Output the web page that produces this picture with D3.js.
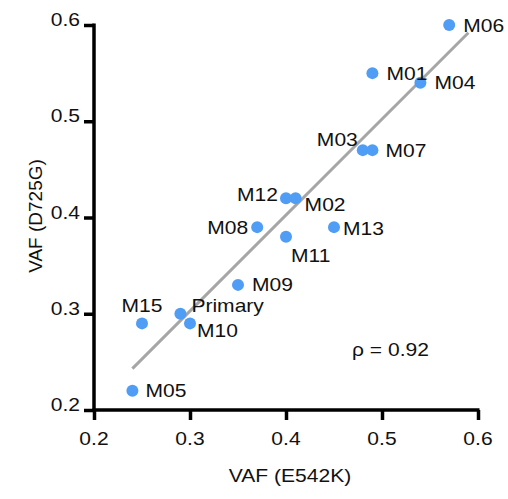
<!DOCTYPE html>
<html>
<head>
<meta charset="utf-8">
<script src="https://cdn.jsdelivr.net/npm/d3@7"></script>
<style>
  html, body { margin: 0; padding: 0; background: #fff; }
  svg { display: block; }
  text { font-family: "Liberation Sans", Arial, sans-serif; fill: #111; }
</style>
</head>
<body>
<svg id="chart" width="508" height="499"></svg>
<script>
// ---- data ----
const samples = ["M06","M01","M04","M03","M07","M12","M02","M08","M13","M11","M09","Primary","M10","M15","M05"];
const vafE542K = [0.57,0.49,0.54,0.48,0.49,0.40,0.41,0.37,0.45,0.40,0.35,0.29,0.30,0.25,0.24];
const vafD725G = [0.60,0.55,0.54,0.47,0.47,0.42,0.42,0.39,0.39,0.38,0.33,0.30,0.29,0.29,0.22];
const fitX = [0.24, 0.59];
const fitY = [0.243, 0.592];
const xTicks = [0.2, 0.3, 0.4, 0.5, 0.6];
const yTicks = [0.2, 0.3, 0.4, 0.5, 0.6];
const rhoText = "\u03C1 = 0.92";

// ---- label placement (layout only) ----
const labelPlace = {
  M06: ["start", 14, 0], M01: ["start", 14, 0], M04: ["start", 14, 0],
  M03: ["end", -5, -11], M07: ["start", 13, 0], M12: ["end", -8, -4],
  M02: ["start", 9, 6], M08: ["end", -9, 0], M13: ["start", 9, 1],
  M11: ["start", 5, 19], M09: ["start", 14, 0], Primary: ["start", 11, -8],
  M10: ["start", 7, 7], M15: ["middle", 0, -18], M05: ["start", 13, 0]
};

const SX = 1.17, FS = 18;
const svg = d3.select("#chart");
const x = d3.scaleLinear().domain([0.2, 0.6]).range([94, 478]);
const y = d3.scaleLinear().domain([0.2, 0.6]).range([410, 25]);

function stretchedText(g, tx, ty, str, anchor) {
  return g.append("text")
    .attr("transform", `translate(${tx},${ty}) scale(${SX},1)`)
    .attr("text-anchor", anchor)
    .attr("font-size", FS)
    .text(str);
}

// axes
const yAxis = d3.axisLeft(y).tickValues(yTicks).tickSize(10).tickFormat("");
const xAxis = d3.axisBottom(x).tickValues(xTicks).tickSize(10).tickFormat("");
const gy = svg.append("g").attr("transform", "translate(94,0)").call(yAxis);
const gx = svg.append("g").attr("transform", "translate(0,410)").call(xAxis);
[gx, gy].forEach(g => {
  g.select(".domain").attr("stroke", "#000").attr("stroke-width", 3.5);
  g.selectAll(".tick line").attr("stroke", "#000").attr("stroke-width", 3.5);
});
gy.select(".domain").attr("d", `M0,${y(0.6) - 1.5}V${y(0.2) + 1.5}`);
gx.select(".domain").attr("d", `M${x(0.2) - 1.5},0H${x(0.6) + 1.5}`);

// tick labels
const fmt = d3.format(".1f");
yTicks.forEach(t => stretchedText(svg, 80, y(t) + 1, fmt(t), "end"));
xTicks.forEach(t => stretchedText(svg, x(t), 445, fmt(t), "middle"));

// axis titles
stretchedText(svg, 290, 482, "VAF (E542K)", "middle");
svg.append("text")
  .attr("transform", "translate(42,216) rotate(-90)")
  .attr("text-anchor", "middle")
  .attr("font-size", 19)
  .text("VAF (D725G)");

// fit line
svg.append("line")
  .attr("x1", x(fitX[0])).attr("y1", y(fitY[0]))
  .attr("x2", x(fitX[1])).attr("y2", y(fitY[1]))
  .attr("stroke", "#a6a6a6").attr("stroke-width", 3);

// points
const pts = samples.map((s, i) => ({ s, vx: vafE542K[i], vy: vafD725G[i] }));
svg.append("g").selectAll("circle").data(pts).join("circle")
  .attr("cx", d => x(d.vx)).attr("cy", d => y(d.vy))
  .attr("r", 6).attr("fill", "#4f9df4");

// labels
const lg = svg.append("g");
pts.forEach(d => {
  const p = labelPlace[d.s];
  stretchedText(lg, x(d.vx) + p[1], y(d.vy) + p[2] + 6.5, d.s, p[0]);
});

// rho
stretchedText(svg, 352, 356, rhoText, "start");
</script>
</body>
</html>
